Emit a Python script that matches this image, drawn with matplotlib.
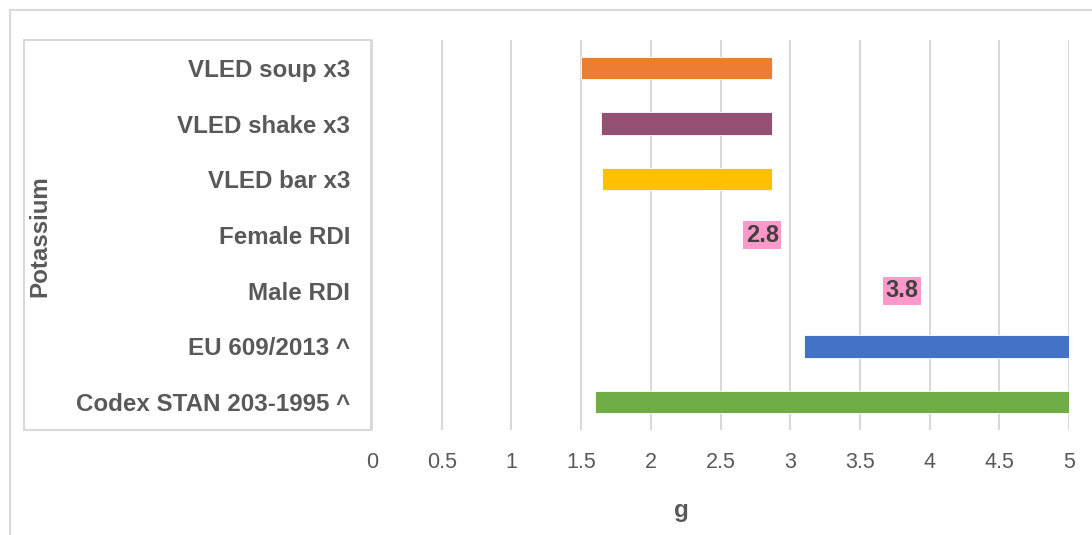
import matplotlib
matplotlib.use("Agg")
import matplotlib.pyplot as plt
from matplotlib.lines import Line2D
from matplotlib.patches import Rectangle

# ---- data (top to bottom) ----
categories = ["VLED soup x3", "VLED shake x3", "VLED bar x3", "Female RDI",
              "Male RDI", "EU 609/2013 ^", "Codex STAN 203-1995 ^"]
range_low = [1.5, 1.64, 1.65, None, None, 3.1, 1.6]
range_high = [2.87, 2.87, 2.87, None, None, 5.0, 5.0]
bar_colors = ["#ED7D31", "#954F72", "#FFC000", None, None, "#4472C4", "#70AD47"]
rdi_values = [None, None, None, 2.8, 3.8, None, None]
x_ticks = [0, 0.5, 1, 1.5, 2, 2.5, 3, 3.5, 4, 4.5, 5]
x_tick_labels = ["0", "0.5", "1", "1.5", "2", "2.5", "3", "3.5", "4", "4.5", "5"]
x_label = "g"
y_label = "Potassium"

plt.rcParams['font.family'] = ['Liberation Sans', 'DejaVu Sans']

W, H = 1092, 535
fig = plt.figure(figsize=(W / 100, H / 100), dpi=100)

def fx(px):
    return px / W

def fy(py):
    return 1 - py / H

ax_left, ax_right, ax_top, ax_bottom = 372, 1069, 40, 430
ax = fig.add_axes([fx(ax_left), fy(ax_bottom), fx(ax_right - ax_left), (ax_bottom - ax_top) / H])

grid_c = "#D9D9D9"
text_c = "#595959"

ys = list(range(len(categories)))
for y, lo, hi, c in zip(ys, range_low, range_high, bar_colors):
    if lo is not None:
        ax.barh(y, hi - lo, left=lo, height=0.4, color=c, edgecolor="white",
                linewidth=0.6, zorder=3)

for y, v in zip(ys, rdi_values):
    if v is not None:
        ax.text(v, y, f"{v:g}", ha="center", va="center", fontsize=17,
                fontweight="bold", color="#404040", zorder=4,
                bbox=dict(boxstyle="square,pad=0.1", facecolor="#FF99CC",
                          edgecolor="none"))

ax.set_xlim(0, 5)
ax.set_ylim(len(categories) - 0.5, -0.5)
ax.set_xticks(x_ticks)
ax.set_xticklabels(x_tick_labels, fontsize=15.5, color=text_c)
ax.set_yticks(ys)
ax.set_yticklabels(categories, fontsize=17.4, fontweight="bold", color=text_c)
ax.tick_params(axis="both", length=0)
ax.tick_params(axis="y", pad=15.5)
ax.tick_params(axis="x", pad=16)
ax.grid(axis="x", color=grid_c, linewidth=1.5, zorder=0)
ax.set_axisbelow(True)
for s in ax.spines.values():
    s.set_visible(False)

# category label box
fig.add_artist(Rectangle((fx(24), fy(430)), fx(371 - 24), (430 - 40) / H,
                         transform=fig.transFigure, fill=False,
                         edgecolor=grid_c, linewidth=1.5))
# outer frame
fig.add_artist(Line2D([fx(10), fx(W)], [fy(10), fy(10)], transform=fig.transFigure,
                      color=grid_c, linewidth=1.5))
fig.add_artist(Line2D([fx(10), fx(10)], [fy(10), 0], transform=fig.transFigure,
                      color=grid_c, linewidth=1.5))

fig.text(fx(681), fy(510), x_label, ha="center", va="center", fontsize=17.4,
         fontweight="bold", color=text_c)
fig.text(fx(40), fy(236), y_label, ha="center", va="center", rotation=90,
         fontsize=17.4, fontweight="bold", color=text_c)

fig.savefig("out.png", dpi=100)
